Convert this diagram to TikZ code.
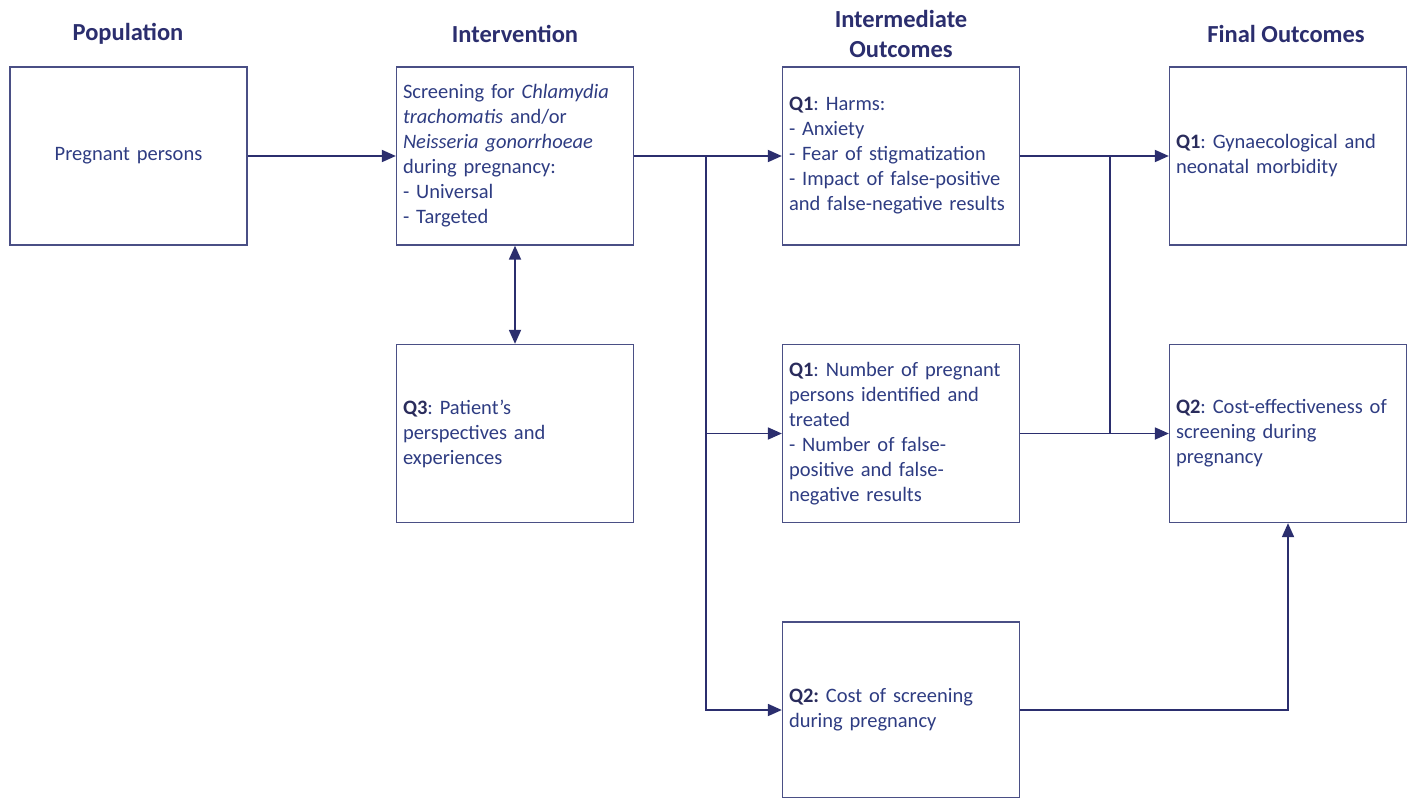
\documentclass[tikz,border=0pt]{standalone}
\usepackage{fontspec}
\setmainfont{Carlito}
\usetikzlibrary{arrows.meta}
\definecolor{navy}{HTML}{2B2E6E}
\definecolor{txtblue}{HTML}{2E3C82}
\definecolor{qdark}{HTML}{2A2C5C}
\definecolor{edge}{HTML}{4A4F85}
\tikzset{
  box/.style={draw=edge, line width=1.3bp, minimum width=237bp, minimum height=178bp,
    text width=224bp, inner xsep=6.5bp, align=left, text=txtblue,
    font=\frenchspacing\fontsize{20.5bp}{25bp}\selectfont},
  cbox/.style={box, align=center},
  hdr/.style={text=navy, font=\bfseries\fontsize{24.5bp}{30bp}\selectfont, align=center},
  conn/.style={draw=navy, line width=1.8bp},
  arr/.style={conn, -{Triangle[length=14bp,width=12bp]}},
  darr/.style={conn, {Triangle[length=14bp,width=12bp]}-{Triangle[length=14bp,width=12bp]}}
}
\newcommand{\qq}[1]{\textcolor{qdark}{\textbf{#1}}}
\begin{document}
\begin{tikzpicture}[x=1bp,y=-1bp]
\useasboundingbox (0,0) rectangle (1414,797);
% headers
\node[hdr] (h1) at (128,34) {Population};
\node[hdr] (h2) at (515,34) {Intervention};
\node[hdr] (h3) at (901,34) {Intermediate\\Outcomes};
\node[hdr] (h4) at (1286,34) {Final Outcomes};
% boxes
\node[cbox] (pop) at (128.5,156) {Pregnant persons};
\node[box] (intv) at (515,156) {Screening for \textit{Chlamydia}\\\textit{trachomatis} and/or\\\textit{Neisseria gonorrhoeae}\\during pregnancy:\\- Universal\\- Targeted};
\node[box] (q3) at (515,433.5) {\qq{Q3}: Patient’s\\perspectives and\\experiences};
\node[box] (im1) at (901,156) {\qq{Q1}: Harms:\\- Anxiety\\- Fear of stigmatization\\- Impact of false-positive\\and false-negative results};
\node[box] (im2) at (901,433.5) {\qq{Q1}: Number of pregnant\\persons identified and\\treated\\- Number of false-\\positive and false-\\negative results};
\node[box, minimum height=176bp] (im3) at (901,710) {\qq{Q2:} Cost of screening\\during pregnancy};
\node[box] (fo1) at (1288,156) {\qq{Q1}: Gynaecological and\\neonatal morbidity};
\node[box] (fo2) at (1288,433.5) {\qq{Q2}: Cost-effectiveness of\\screening during\\pregnancy};
% connectors
\coordinate (b1) at (706,156);
\coordinate (j1) at (1110,156);
\coordinate (j2) at (1110,433);
\draw[arr] (pop) -- (intv);
\draw[arr] (intv.east) -- (im1.west);
\draw[arr] (b1) |- (im2.west);
\draw[arr] (b1) |- (im3.west);
\draw[darr] (intv.south) -- (q3.north);
\draw[arr] (im1.east) -- (fo1.west);
\draw[arr] (im2.east) -- (fo2.west);
\draw[conn] (j1) -- (j2);
\draw[arr] (im3.east) -| (fo2.south);
\end{tikzpicture}
\end{document}
